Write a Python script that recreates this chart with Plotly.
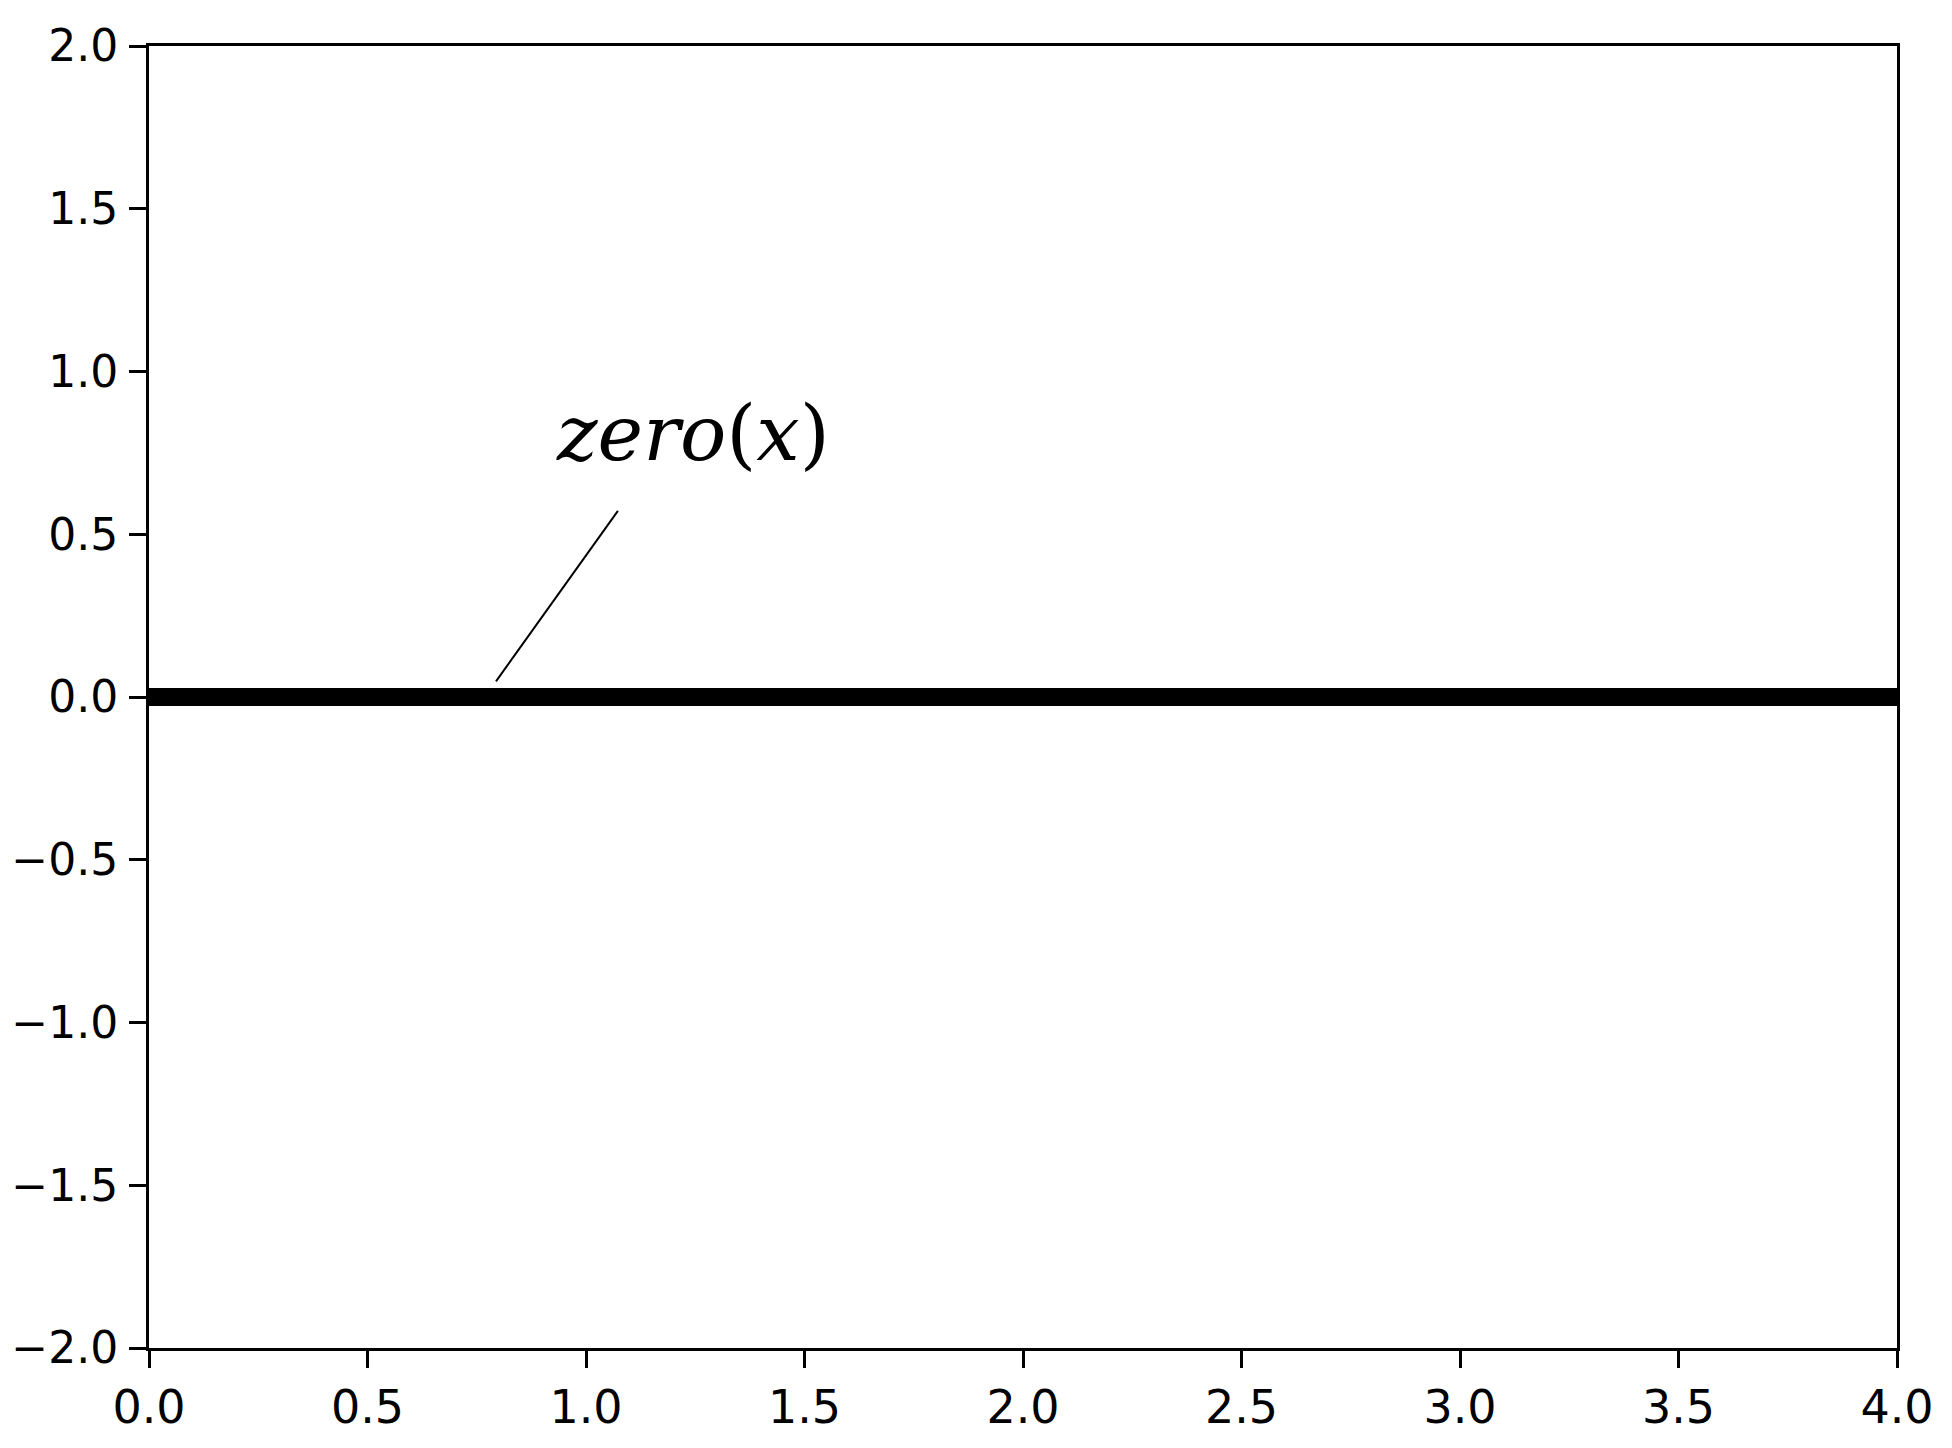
import plotly.graph_objects as go

# data
x_vals = [0.0, 4.0]
y_vals = [0.0, 0.0]
x_ticks = [0.0, 0.5, 1.0, 1.5, 2.0, 2.5, 3.0, 3.5, 4.0]
y_ticks = [-2.0, -1.5, -1.0, -0.5, 0.0, 0.5, 1.0, 1.5, 2.0]
label_text = "<i>zero</i>(<i>x</i>)"
label_pos = (1.245, 0.81)
pointer_from = (1.073, 0.572)
pointer_to = (0.794, 0.048)

fig = go.Figure()

fig.add_trace(
    go.Scatter(
        x=x_vals,
        y=y_vals,
        mode="lines",
        line=dict(color="black", width=18),
        hoverinfo="skip",
        showlegend=False,
    )
)

# pointer line from label to curve
fig.add_shape(
    type="line",
    xref="x", yref="y",
    x0=pointer_from[0], y0=pointer_from[1],
    x1=pointer_to[0], y1=pointer_to[1],
    line=dict(color="black", width=2),
)

fig.add_annotation(
    x=label_pos[0], y=label_pos[1],
    xref="x", yref="y",
    text=label_text,
    showarrow=False,
    font=dict(family="DejaVu Serif", size=77, color="black"),
)

axis_style = dict(
    showline=True,
    linecolor="black",
    linewidth=3,
    mirror=True,
    ticks="outside",
    ticklen=17,
    tickwidth=3,
    tickcolor="black",
    showgrid=False,
    zeroline=False,
    automargin=False,
    tickformat=".1f",
)

fig.update_xaxes(range=[0, 4], tickvals=x_ticks,
                 tickfont=dict(family="DejaVu Sans", size=46, color="black"),
                 **axis_style)
fig.update_yaxes(range=[-2, 2], tickvals=y_ticks, ticklabelstandoff=2,
                 tickfont=dict(family="DejaVu Sans", size=44, color="black"),
                 **axis_style)

# page body adds 8px offset, margins compensate
fig.update_layout(
    width=1952,
    height=1448,
    margin=dict(l=141, r=63, t=38, b=108),
    plot_bgcolor="white",
    paper_bgcolor="white",
    showlegend=False,
)

fig.write_html("out.html")
